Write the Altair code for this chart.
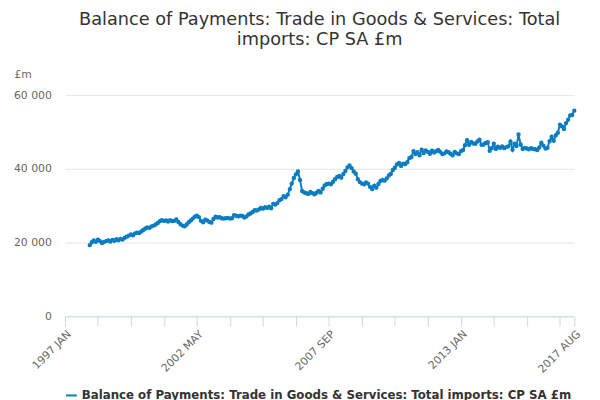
import pandas as pd
import altair as alt

start = "1998-01-01"
imports = [
    # 1998
    19300, 20100, 20600, 20200, 20800, 20400, 19900, 20200, 20400, 20600, 20300, 20700,
    # 1999
    20500, 20900, 20600, 21000, 20800, 21300, 21600, 21900, 22200, 22000, 22500, 22700,
    # 2000
    22600, 23000, 23400, 23800, 24100, 24000, 24400, 24600, 24900, 25300, 25800, 26100,
    # 2001
    25900, 26000, 25700, 26100, 25800, 25900, 26300, 25600, 25000, 24600, 24400, 24900,
    # 2002
    25500, 26000, 26500, 27000, 27300, 26900, 25900, 25500, 26200, 26000, 25600, 25400,
    # 2003
    26400, 27000, 26800, 26900, 26600, 26500, 26600, 26700, 26500, 26600, 27400, 27300,
    # 2004
    27100, 27300, 27200, 26800, 27100, 27600, 27900, 28300, 28800, 28700, 29000, 29400,
    # 2005
    29200, 29600, 29400, 29700, 29300, 30500, 30300, 30700, 31500, 31800, 32600, 32300,
    # 2006
    33000, 34500, 36000, 37500, 38500, 39300, 37000, 34000, 33600, 33400, 33200, 33700,
    # 2007
    33400, 33100, 33500, 34000, 33600, 34600, 35500, 35900, 36000, 35800, 36500, 37200,
    # 2008
    37800, 38100, 37600, 38600, 39400, 40400, 40900, 40200, 39300, 38700, 37200, 36400,
    # 2009
    36000, 35800, 36300, 36000, 35100, 34500, 35400, 34900, 35900, 36700, 37000, 36800,
    # 2010
    37400, 38200, 38600, 39700, 40300, 41200, 41600, 40800, 41400, 41300, 41800, 42900,
    # 2011
    43200, 44800, 44000, 44500, 43700, 45200, 44300, 45000, 44600, 44100, 44900, 44400,
    # 2012
    44800, 45100, 44600, 44000, 44200, 44700, 44500, 44100, 43700, 44600, 44200, 44000,
    # 2013
    44800, 45100, 46400, 47800, 46500, 47300, 46900, 46800, 47400, 47900, 46500, 46600,
    # 2014
    47000, 47200, 44900, 45600, 46800, 45400, 46000, 45700, 46100, 45600, 45900, 46100,
    # 2015
    47400, 45200, 46800, 46200, 49300, 46600, 45400, 45700, 45500, 45300, 45600, 45400,
    # 2016
    45300, 45100, 45800, 47100, 46300, 45500, 45700, 47500, 48700, 47600, 49100, 49800,
    # 2017
    52000, 51500, 50800, 52400, 53300, 54500, 54600, 55800,
]
months = pd.date_range(start, periods=len(imports), freq="MS")
series = "Balance of Payments: Trade in Goods & Services: Total imports: CP SA £m"
df = pd.DataFrame({"date": months, "value": imports, "series": series})

# ticks every 16 months from 1997 Jan, plus the last month
tick_offsets = list(range(0, 241, 16)) + [247]
tick_dates = [pd.Timestamp("1997-01-01") + pd.DateOffset(months=m) for m in tick_offsets]
tick_vals = [alt.DateTime(year=d.year, month=d.month, date=1) for d in tick_dates]

label_expr = (
    "indexof(['1997 JAN','2002 MAY','2007 SEP','2013 JAN','2017 AUG'], "
    "upper(timeFormat(datum.value, '%Y %b'))) >= 0 ? upper(timeFormat(datum.value, '%Y %b')) : ''"
)

line = alt.Chart(df).mark_line(
    color="#0a7dc2", strokeWidth=2, point=alt.OverlayMarkDef(color="#0a7dc2", size=6)
).encode(
    x=alt.X("date:T", title=None,
            scale=alt.Scale(domain=[alt.DateTime(year=1997, month=1, date=1),
                                    alt.DateTime(year=2017, month=8, date=1)]),
            axis=alt.Axis(values=tick_vals, labelExpr=label_expr, labelAngle=-45,
                          grid=False, domainColor="#ccd6eb", tickColor="#ccd6eb",
                          tickSize=10, labelColor="#666666", labelFontSize=11,
                          labelAlign="right", labelBaseline="top", labelOverlap=False,
                          labelPadding=2)),
    y=alt.Y("value:Q", title="£m",
            scale=alt.Scale(domain=[0, 60000]),
            axis=alt.Axis(values=[0, 20000, 40000, 60000],
                          labelExpr="replace(format(datum.value, ',d'), ',', ' ')",
                          gridColor="#e6e6e6", domain=False, ticks=False,
                          labelColor="#666666", labelFontSize=11, labelPadding=14,
                          titleAngle=0, titleAlign="left",
                          titleX=-52, titleY=-16, titleFontWeight="normal",
                          titleColor="#666666", titleFontSize=11)),
    stroke=alt.Stroke("series:N", scale=alt.Scale(range=["#0a7dc2"]),
                      legend=alt.Legend(title=None, orient="bottom", labelFontSize=12,
                                        labelFontWeight="bold", labelColor="#333333",
                                        symbolType="stroke", symbolStrokeWidth=2,
                                        symbolSize=120, labelLimit=600, offset=14)),
)

source = alt.Chart(pd.DataFrame({"t": ["Source:"]})).mark_text(
    align="right", fontSize=12, color="#666666"
).encode(text="t:N", x=alt.value(526), y=alt.value(328))

chart = (line + source).properties(
    width=518, height=225,
    padding={"left": 5, "right": 10, "top": 0, "bottom": 0},
    title=alt.TitleParams(["Balance of Payments: Trade in Goods & Services: Total",
                           "imports: CP SA £m"], fontSize=18, fontWeight="normal",
                          color="#333333", anchor="middle", font="DejaVu Sans",
                          offset=20),
).configure(font="DejaVu Sans").configure_view(stroke=None)

chart.save("out.html", embed_options={"renderer": "svg", "actions": False})
